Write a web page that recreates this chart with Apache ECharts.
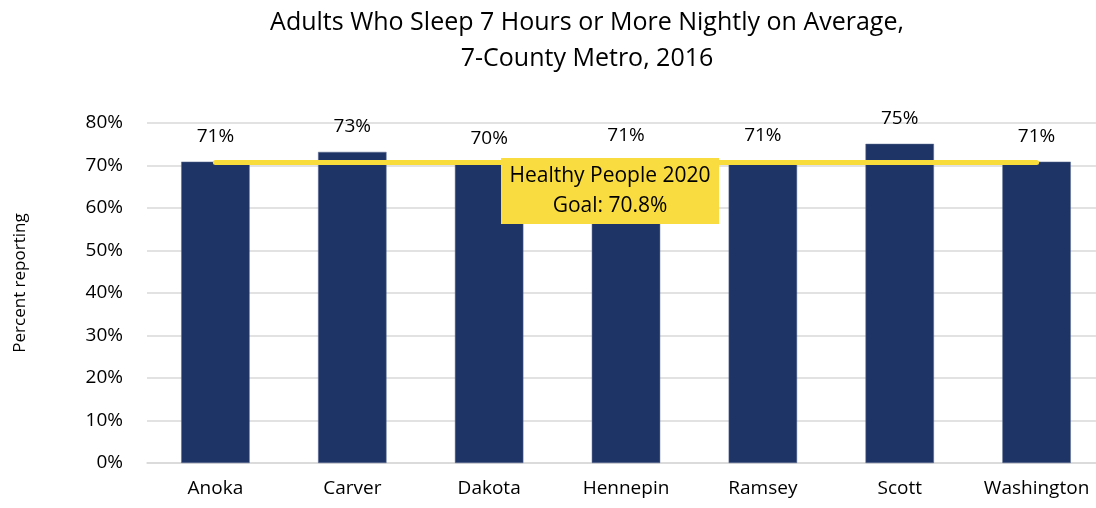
<!DOCTYPE html>
<html><head><meta charset="utf-8">
<script src="https://cdn.jsdelivr.net/npm/echarts@6/dist/echarts.min.js"></script>
<style>html,body{margin:0;padding:0;background:#fff;overflow:hidden}#c{width:1105px;height:508px}</style>
</head><body><div id="c"></div>
<script>
const categories = ['Anoka','Carver','Dakota','Hennepin','Ramsey','Scott','Washington'];
const values = [70.9, 73.2, 70.4, 71.0, 71.0, 75.1, 70.9];
const goalValue = 70.8;
const goalLabel = ['Healthy People 2020', 'Goal: 70.8%'];
const yTicks = {min: 0, max: 80, interval: 10};
const titleLines = ['Adults Who Sleep 7 Hours or More Nightly on Average,', '7-County Metro, 2016'];
const yAxisName = 'Percent reporting';

const chart = echarts.init(document.getElementById('c'));
const F = '"Open Sans", sans-serif';
chart.setOption({
  animation: false,
  title: {
    text: titleLines.join('\n'),
    left: 582, top: 0, textAlign: 'center',
    textStyle: {fontFamily: F, fontSize: 25, fontWeight: 'normal', color: '#000', lineHeight: 36}
  },
  grid: {left: 147, right: 0, top: 123, bottom: 45, containLabel: false},
  xAxis: {
    type: 'category', data: categories,
    axisLine: {lineStyle: {color: '#d9d9d9', width: 1.5}},
    axisTick: {show: false},
    axisLabel: {fontFamily: F, fontSize: 19, color: '#000', margin: 16, interval: 0}
  },
  yAxis: {
    type: 'value', min: yTicks.min, max: yTicks.max, interval: yTicks.interval,
    name: yAxisName, nameLocation: 'middle', nameGap: 118, nameRotate: 90,
    nameTextStyle: {fontFamily: F, fontSize: 17, color: '#000', padding: [0, 0, 0, 20]},
    axisLabel: {fontFamily: F, fontSize: 19, color: '#000', margin: 24, formatter: v => v + '%'},
    axisLine: {show: false}, axisTick: {show: false},
    splitLine: {lineStyle: {color: '#d9d9d9', width: 1.5}}
  },
  series: [{
    type: 'bar', data: values, barWidth: '50%',
    itemStyle: {color: '#1f3466', borderColor: '#5a6a90', borderWidth: 0.5},
    label: {show: true, position: 'top', distance: 16, fontFamily: F, fontSize: 19, color: '#000',
      formatter: p => Math.round(p.value) + '%'},
    markLine: {
      silent: true, symbol: 'none',
      lineStyle: {color: '#f8dc3c', width: 5, type: 'solid', cap: 'round'},
      label: {
        show: true, position: 'insideMiddleBottom', distance: -4, offset: [-16, 0],
        formatter: goalLabel.join('\n'),
        backgroundColor: '#f9dc3f', color: '#000', fontFamily: F, fontSize: 21, lineHeight: 30,
        padding: [3, 8, 3, 8], width: 202, align: 'center'
      },
      data: [[{coord: [categories[0], goalValue]}, {coord: [categories[categories.length - 1], goalValue]}]]
    }
  }]
});
</script></body></html>
